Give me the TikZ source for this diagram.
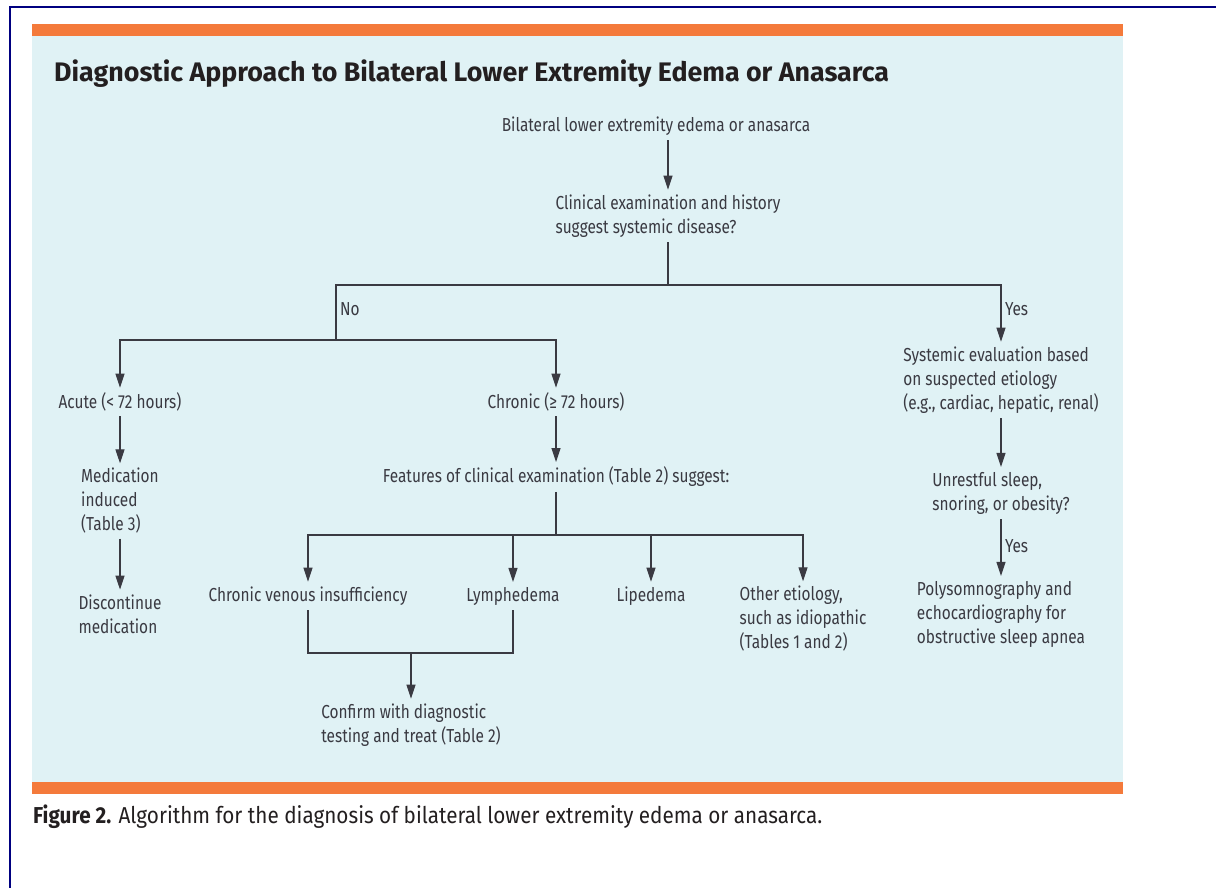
\documentclass[tikz,border=0pt]{standalone}
\usepackage{fontspec}
\setmainfont{Fira Sans}[FakeStretch=0.82]
\newfontfamily\headfont{Fira Sans}
\newfontfamily\capfont{Fira Sans}[FakeStretch=0.9]
\usetikzlibrary{arrows.meta}
\definecolor{afporange}{HTML}{F47A3B}
\definecolor{panelblue}{HTML}{E0F2F5}
\definecolor{framenavy}{HTML}{000080}
\definecolor{inkgray}{HTML}{3A3A42}
\definecolor{titleink}{HTML}{231F20}
\tikzset{
  txt/.style={inner sep=0pt, outer sep=5pt, text=inkgray, align=left,
    font=\fontsize{18.8}{24}\selectfont},
  link/.style={draw=inkgray, line width=1.1pt},
  arr/.style={link, -{Triangle[length=14pt,width=9pt]}},
}

\begin{document}
\begin{tikzpicture}[x=1pt,y=-1pt]
  \useasboundingbox (0,0) rectangle (1216,888);
  \fill [white] (0,0) rectangle (1216,888);
  \draw [framenavy, line width=2pt] (10,888) -- (10,7) -- (1216,7);
  \fill [panelblue] (32,36) rectangle (1123,782);
  \fill [afporange] (32,24) rectangle (1123,36);
  \fill [afporange] (32,782) rectangle (1123,794);
  \node [anchor=base west, inner sep=0pt, text=titleink,
    font=\headfont\fontsize{26.8}{30}\selectfont\bfseries] (title) at (54,82)
    {Diagnostic Approach to Bilateral Lower Extremity Edema or Anasarca};
  \node [anchor=base west, inner sep=0pt, text=titleink,
    font=\capfont\fontsize{23}{27}\selectfont] (caption) at (33,823)
    {\textbf{Figure 2.} Algorithm for the diagnosis of bilateral lower extremity edema or anasarca.};

  \node [txt] (start) at (656,126) {Bilateral lower extremity edema or anasarca};
  \node [txt] (clinical) at (668,216) {Clinical examination and history\\suggest systemic disease?};
  \node [txt] (acute) at (120,402) {Acute (< 72 hours)};
  \node [txt] (chronic) at (556,402) {Chronic (\char"2265{} 72 hours)};
  \node [txt] (systemic) at (1001,380) {Systemic evaluation based\\on suspected etiology\\(e.g., cardiac, hepatic, renal)};
  \node [txt] (unrest) at (1001,493) {Unrestful sleep,\\snoring, or obesity?};
  \node [txt] (poly) at (1001,614) {Polysomnography and\\echocardiography for\\obstructive sleep apnea};
  \node [txt] (medic) at (120,501) {Medication\\induced\\(Table 3)};
  \node [txt] (discont) at (120,614) {Discontinue\\medication};
  \node [txt] (features) at (556,477) {Features of clinical examination (Table 2) suggest:};
  \node [txt] (cvi) at (308,596) {Chronic venous insufficiency};
  \node [txt] (lymph) at (513,596) {Lymphedema};
  \node [txt] (lip) at (651,596) {Lipedema};
  \node [txt] (other) at (803,619) {Other etiology,\\such as idiopathic\\(Tables 1 and 2)};
  \node [txt] (confirm) at (411,725) {Confirm with diagnostic\\testing and treat (Table 2)};
  \node [txt, anchor=west, outer sep=0pt] (noLbl) at (340,309) {No};
  \node [txt, anchor=west, outer sep=0pt] (yesLbl) at (1005,309) {Yes};
  \node [txt, anchor=west, outer sep=0pt] (yesLblB) at (1005,546) {Yes};

  \coordinate (ynJoin) at (668,285);
  \coordinate (noJoin) at (336,340);
  \coordinate (featJoin) at (556,535);
  \coordinate (cfJoin) at (411,653);

  \draw [arr] (start.south -| clinical) -- (clinical);
  \draw [link] (clinical) -- (ynJoin);
  \draw [link] (noJoin) |- (ynJoin);
  \draw [arr] (ynJoin) -| (systemic);
  \draw [arr] (noJoin) -| (acute);
  \draw [arr] (noJoin) -| (chronic);
  \draw [arr] (acute) -- (medic);
  \draw [arr] (medic) -- (discont);
  \draw [arr] (chronic) -- (features);
  \draw [link] (features) -- (featJoin);
  \draw [arr] (featJoin) -| (cvi);
  \draw [arr] (featJoin) -| (lymph);
  \draw [arr] (featJoin) -| (lip);
  \draw [arr] (featJoin) -| (other);
  \draw [link] (cvi) |- (cfJoin) -| (lymph);
  \draw [arr] (cfJoin) -- (confirm);
  \draw [arr] (systemic) -- (unrest);
  \draw [arr] (unrest) -- (poly);
\end{tikzpicture}
\end{document}
